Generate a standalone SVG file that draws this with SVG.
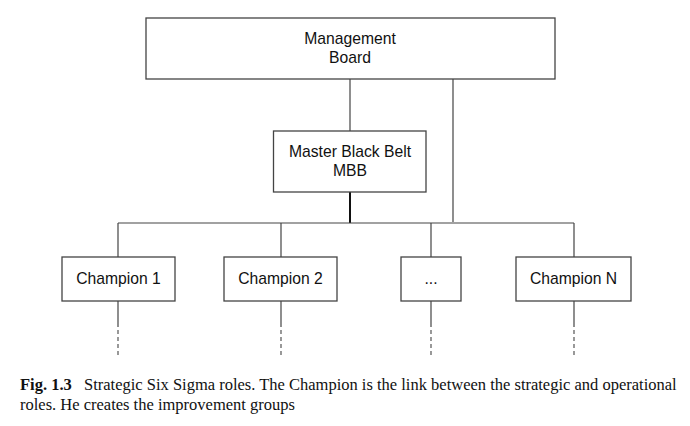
<svg xmlns="http://www.w3.org/2000/svg" width="690" height="426" viewBox="0 0 690 426">
<style>
.box{fill:#fff;stroke:#444;stroke-width:1.3}
.t{font-family:"Liberation Sans",Arial,sans-serif;font-size:15.7px;fill:#111;text-anchor:middle}
.c{stroke:#444;stroke-width:1.2;fill:none}
.d{stroke:#555;stroke-width:1.2;fill:none;stroke-dasharray:4 3}
.cap{font-family:"Liberation Serif","Times New Roman",serif;font-size:16.5px;fill:#111}
</style>
<rect width="690" height="426" fill="#fff"/>
<g id="connectors">
<line class="c" x1="350" y1="79" x2="350" y2="131"/>
<line class="c" x1="453" y1="79" x2="453" y2="222"/>
<line x1="350" y1="192" x2="350" y2="223" stroke="#111" stroke-width="2"/>
<line class="c" x1="118" y1="223" x2="574" y2="223"/>
<line class="c" x1="118" y1="223" x2="118" y2="257"/>
<line class="c" x1="281" y1="223" x2="281" y2="257"/>
<line class="c" x1="431" y1="223" x2="431" y2="257"/>
<line class="c" x1="574" y1="223" x2="574" y2="257"/>
<line class="c" x1="118" y1="301" x2="118" y2="327"/>
<line class="c" x1="281" y1="301" x2="281" y2="327"/>
<line class="c" x1="431" y1="301" x2="431" y2="327"/>
<line class="c" x1="574" y1="301" x2="574" y2="327"/>
<line class="d" x1="118" y1="330" x2="118" y2="355"/>
<line class="d" x1="281" y1="330" x2="281" y2="355"/>
<line class="d" x1="431" y1="330" x2="431" y2="355"/>
<line class="d" x1="574" y1="330" x2="574" y2="355"/>
</g>
<g id="board">
<rect class="box" x="146" y="18" width="409" height="61"/>
<text class="t" x="350" y="44">Management</text>
<text class="t" x="350" y="63">Board</text>
</g>
<g id="mbb">
<rect class="box" x="273.5" y="131" width="152.5" height="61"/>
<text class="t" x="350" y="157">Master Black Belt</text>
<text class="t" x="350" y="176">MBB</text>
</g>
<g id="champion1">
<rect class="box" x="62" y="257" width="113" height="44"/>
<text class="t" x="118.5" y="284">Champion 1</text>
</g>
<g id="champion2">
<rect class="box" x="224" y="257" width="113" height="44"/>
<text class="t" x="280.5" y="284">Champion 2</text>
</g>
<g id="ellipsis">
<rect class="box" x="401" y="257" width="60" height="44"/>
<text class="t" x="431" y="284">...</text>
</g>
<g id="championN">
<rect class="box" x="516" y="257" width="115" height="44"/>
<text class="t" x="573.5" y="284">Champion N</text>
</g>
<g id="caption">
<text class="cap" x="20" y="390"><tspan font-weight="bold">Fig. 1.3</tspan><tspan x="84">Strategic Six Sigma roles. The Champion is the link between the strategic and operational</tspan></text>
<text class="cap" x="20" y="410">roles. He creates the improvement groups</text>
</g>
</svg>
